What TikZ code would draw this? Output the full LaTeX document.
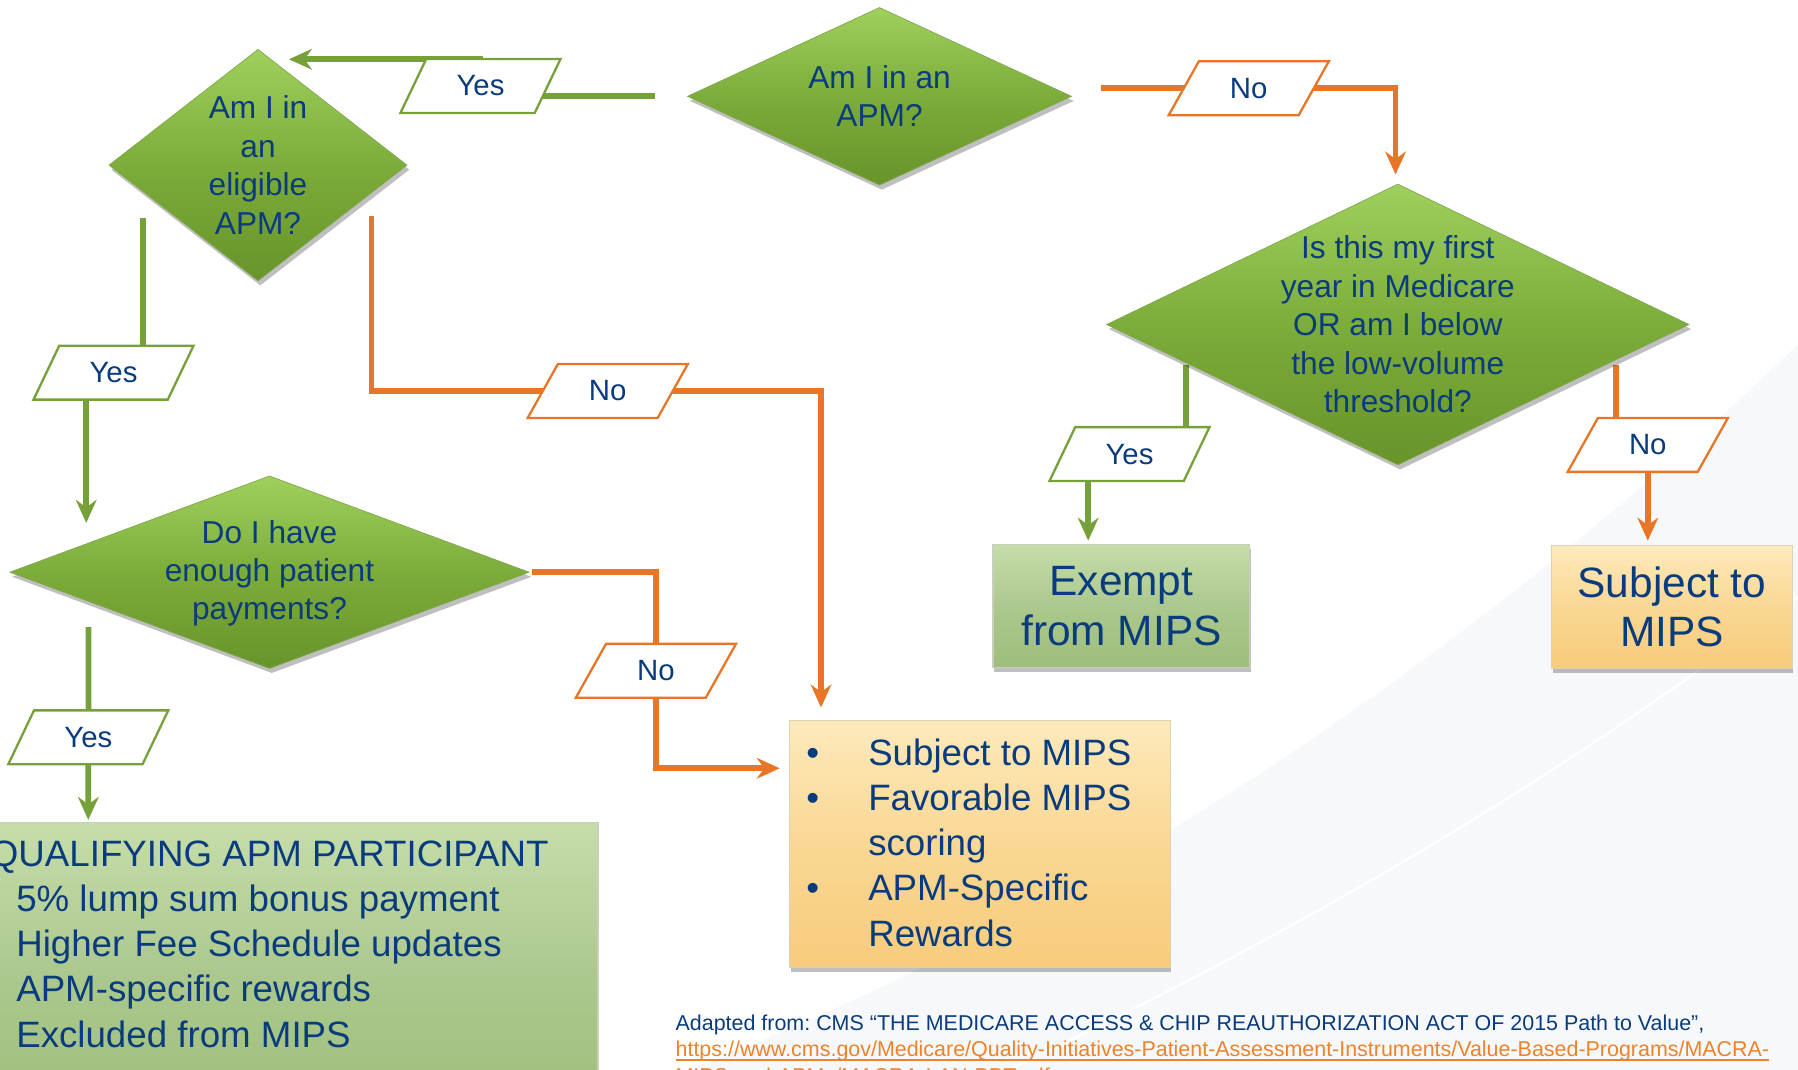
\documentclass[tikz,border=0pt]{standalone}
\usepackage{fontspec}
\setmainfont{Liberation Sans}
\usetikzlibrary{shapes.geometric,arrows.meta,calc,shadows}

\definecolor{qnavy}{RGB}{10,60,125}
\definecolor{yesgreen}{RGB}{118,160,58}
\definecolor{noorange}{RGB}{232,118,38}
\definecolor{urlorange}{RGB}{240,130,40}
\definecolor{dtop}{RGB}{160,208,92}
\definecolor{dmid}{RGB}{124,172,58}
\definecolor{dbot}{RGB}{104,148,42}
\definecolor{gtop}{RGB}{198,221,170}
\definecolor{gmid}{RGB}{172,200,142}
\definecolor{gbot}{RGB}{158,190,122}
\definecolor{otop}{RGB}{253,234,188}
\definecolor{omid}{RGB}{250,215,148}
\definecolor{obot}{RGB}{247,204,124}
\definecolor{swoosh}{RGB}{246,248,251}

\newcommand{\urlul}[1]{\setbox0=\hbox{#1}\rlap{\rule[-3.4pt]{\wd0}{1.4pt}}\box0}

\pgfdeclarelayer{bg}
\pgfdeclarelayer{wires}
\pgfsetlayers{bg,wires,main}

\tikzset{
  decision/.style={diamond, inner sep=0pt,
    draw={rgb, 255:red, 128; green, 168; blue, 78 }, line width=0.6pt,
    top color=dtop, bottom color=dbot, middle color=dmid,
    drop shadow={shadow xshift=2pt, shadow yshift=-4pt, opacity=0.25, fill=black}},
  qtext/.style={align=center, inner sep=0pt, text=qnavy, font=\fontsize{27.6}{33.5}\selectfont},
  answer/.style={trapezium, trapezium left angle=61, trapezium right angle=119,
    trapezium stretches=true, minimum width=140, minimum height=47, inner sep=0pt,
    fill=white, line width=2pt, text=qnavy, font=\fontsize{25.6}{30}\selectfont},
  yeslabel/.style={answer, draw=yesgreen},
  nolabel/.style={answer, draw=noorange},
  yesline/.style={draw=yesgreen, line width=5pt, -{Stealth[length=20pt,width=18pt]}},
  noline/.style={draw=noorange, line width=5pt, -{Stealth[length=20pt,width=18pt]}},
  greenbox/.style={rectangle, inner sep=0pt,
    draw={rgb, 255:red, 200; green, 208; blue, 185 }, line width=1pt,
    top color=gtop, bottom color=gbot, middle color=gmid,
    drop shadow={shadow xshift=1pt, shadow yshift=-4pt, opacity=0.25, fill=black}},
  orangebox/.style={rectangle, inner sep=0pt,
    draw={rgb, 255:red, 222; green, 210; blue, 180 }, line width=1pt,
    top color=otop, bottom color=obot, middle color=omid,
    drop shadow={shadow xshift=1pt, shadow yshift=-4pt, opacity=0.25, fill=black}},
  btext/.style={align=left, inner sep=0pt, text=qnavy, font=\fontsize{32}{39.4}\selectfont}
}

\begin{document}
\frenchspacing
\begin{tikzpicture}[x=1pt,y=1pt,yscale=-1,xscale=1]
\useasboundingbox (0,0) rectangle (1568,933);
\clip (0,0) rectangle (1568,933);

%Shape: Background swoosh
\begin{pgfonlayer}{bg}
\fill[swoosh] (600,933) .. controls (950,800) and (1300,560) .. (1568,300) -- (1568,933) -- cycle ;
\draw[white, line width=2pt] (880,933) .. controls (1180,790) and (1400,650) .. (1568,520) ;
\end{pgfonlayer}

%Shape: Diamond
\node[decision, minimum width=335, minimum height=155] (apm) at (767,84) {};
% Text Node
\node[qtext] (apmtxt) at (apm) {Am I in an\\APM?};
%Shape: Diamond
\node[decision, minimum width=260, minimum height=202] (elig) at (225,144) {};
% Text Node
\node[qtext] (eligtxt) at (elig) {Am I in\\an\\eligible\\APM?};
%Shape: Diamond
\node[decision, minimum width=508, minimum height=245] (first) at (1219,283) {};
% Text Node
\node[qtext] (firsttxt) at (first) {Is this my first\\year in Medicare\\OR am I below\\the low-volume\\threshold?};
%Shape: Diamond
\node[decision, minimum width=453, minimum height=168] (pay) at (235,499) {};
% Text Node
\node[qtext] (paytxt) at (235,500) {Do I have\\enough patient\\payments?};

%Shape: Rectangle
\node[greenbox, minimum width=224, minimum height=107, align=center, text=qnavy, font=\fontsize{37}{43}\selectfont] (exempt) at (978,528.5) {Exempt\\from MIPS};
%Shape: Rectangle
\node[orangebox, minimum width=210, minimum height=107, align=center, text=qnavy, font=\fontsize{37}{43}\selectfont] (subj) at (1458,529.5) {Subject to\\MIPS};
%Shape: Rectangle
\node[orangebox, minimum width=332, minimum height=215, anchor=north west] (mipsfav) at (688,628) {};
% Text Node
\node[btext, anchor=north west] (mipsfavtxt) at (703,644) {\makebox[54pt][l]{\textbullet}Subject to MIPS\\\makebox[54pt][l]{\textbullet}Favorable MIPS\\\hspace*{54pt}scoring\\\makebox[54pt][l]{\textbullet}APM-Specific\\\hspace*{54pt}Rewards};
%Shape: Rectangle
\node[greenbox, minimum width=584, minimum height=263, anchor=north west] (qap) at (-63,717) {};
% Text Node
\node[btext, anchor=north west] (qaptxt) at (-9,733) {QUALIFYING APM PARTICIPANT\\\hspace*{23pt}5\% lump sum bonus payment\\\hspace*{23pt}Higher Fee Schedule updates\\\hspace*{23pt}APM-specific rewards\\\hspace*{23pt}Excluded from MIPS};

%Shape: Parallelogram
\node[yeslabel] (yesA) at (419,75) {Yes};
\node[nolabel] (noA) at (1089,77) {No};
\node[yeslabel] (yesB) at (99,325) {Yes};
\node[nolabel] (noB) at (530,341) {No};
\node[yeslabel] (yesC) at (985,396) {Yes};
\node[nolabel] (noC) at (1437,388) {No};
\node[yeslabel] (yesD) at (77,643) {Yes};
\node[nolabel] (noD) at (572,585) {No};

%Connectors
\begin{pgfonlayer}{wires}
\draw[yesline] ($(apm.west)+(-28,0)$) -| (yesA.center) |- ($(elig.north)+(27,9)$) ;
\draw[noline] ($(apm.east)+(25,-7)$) -| ($(first.north)+(-2,-8)$) ;
\draw[yesline] ($(elig.center)+(-100,46)$) |- (yesB.center) -| ($(pay.west)+(67,-43)$) ;
\draw[noline] ($(elig.center)+(99,44)$) |- (noB.center) -| ($(mipsfav.north west)+(28,-11)$) ;
\draw[yesline] ($(pay.west)+(69,48)$) -- ($(qap.north west)+(140,-2)$) ;
\draw[noline] ($(pay.east)+(2,0)$) -| (noD.center) |- ($(mipsfav.north west)+(-8,42)$) ;
\draw[yesline] ($(first.center)+(-185,35)$) |- (yesC.center) -| ($(exempt.north)+(-29,-3)$) ;
\draw[noline] ($(first.center)+(190,35)$) |- (noC.center) -| ($(subj.north)+(-21,-4)$) ;
\end{pgfonlayer}

% Text Node
\node[anchor=north west, inner sep=0pt, align=left, text=qnavy, font=\fontsize{18.7}{23}\selectfont] (source) at (589,885) {Adapted from: CMS “THE MEDICARE ACCESS \& CHIP REAUTHORIZATION ACT OF 2015 Path to Value”,\\\textcolor{urlorange}{\urlul{https://www.cms.gov/Medicare/Quality-Initiatives-Patient-Assessment-Instruments/Value-Based-Programs/MACRA-}}\\\textcolor{urlorange}{\urlul{MIPS-and-APMs/MACRA-LAN-PPT.pdf}}};

\end{tikzpicture}
\end{document}
